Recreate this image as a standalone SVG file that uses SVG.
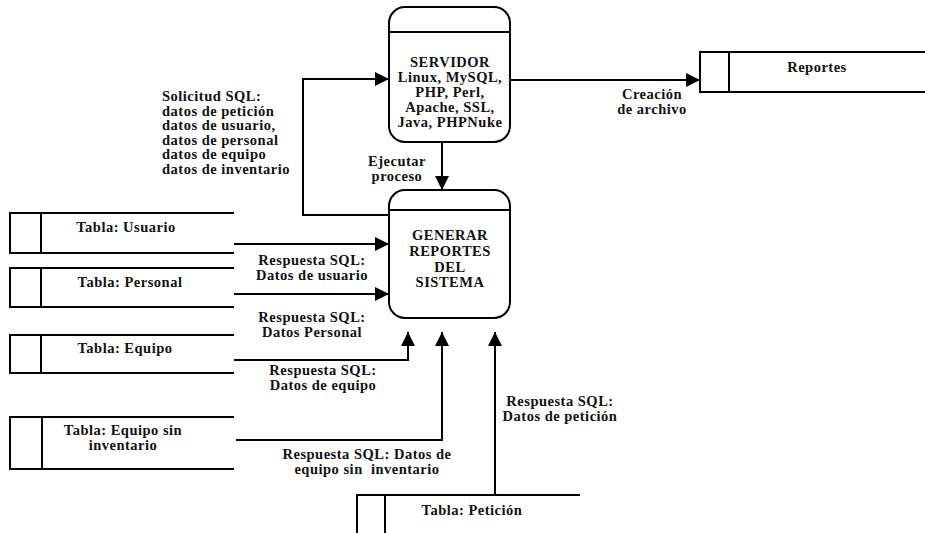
<svg xmlns="http://www.w3.org/2000/svg" width="925" height="533" viewBox="0 0 925 533">
  <style>
    .ln { fill: none; stroke: #000; stroke-width: 2; }
    .box { fill: none; stroke: #000; stroke-width: 2; }
    text { font-family: "Liberation Serif", "Times New Roman", serif; font-weight: bold; font-size: 14.5px; letter-spacing: 0.5px; fill: #111; }
    .c { text-anchor: middle; }
  </style>
  <defs>
    <marker id="arrow" viewBox="0 0 14 14" markerWidth="14" markerHeight="14" refX="14" refY="7" orient="auto" markerUnits="userSpaceOnUse">
      <path d="M0,0 L14,7 L0,14 z" fill="#000"/>
    </marker>
  </defs>
  <rect width="925" height="533" fill="#fff"/>

  <!-- processes -->
  <g id="servidor">
    <rect class="box" x="389" y="7" width="121" height="135" rx="16" ry="16"/>
    <line class="box" x1="389" y1="32" x2="510" y2="32"/>
    <text class="c" x="450" y="67">SERVIDOR</text>
    <text class="c" x="450" y="82">Linux, MySQL,</text>
    <text class="c" x="450" y="97">PHP, Perl,</text>
    <text class="c" x="450" y="112">Apache, SSL,</text>
    <text class="c" x="450" y="127">Java, PHPNuke</text>
  </g>

  <g id="generar">
    <rect class="box" x="389" y="190" width="121" height="128" rx="16" ry="16"/>
    <line class="box" x1="389" y1="210" x2="510" y2="210"/>
    <text class="c" x="450" y="240">GENERAR</text>
    <text class="c" x="450" y="256">REPORTES</text>
    <text class="c" x="450" y="272">DEL</text>
    <text class="c" x="450" y="287">SISTEMA</text>
  </g>

  <!-- data stores -->
  <g id="reportes">
    <path class="box" d="M925,52 H700 V92 H925"/>
    <line class="box" x1="729" y1="52" x2="729" y2="92"/>
    <text class="c" x="817" y="72">Reportes</text>
  </g>

  <g id="tabla-usuario">
    <path class="box" d="M234,213 H10 V253 H234"/>
    <line class="box" x1="41" y1="213" x2="41" y2="253"/>
    <text class="c" x="126" y="232">Tabla: Usuario</text>
  </g>

  <g id="tabla-personal">
    <path class="box" d="M234,268 H10 V307 H234"/>
    <line class="box" x1="41" y1="268" x2="41" y2="307"/>
    <text class="c" x="130" y="287">Tabla: Personal</text>
  </g>

  <g id="tabla-equipo">
    <path class="box" d="M234,335 H10 V373 H234"/>
    <line class="box" x1="41" y1="335" x2="41" y2="373"/>
    <text class="c" x="125" y="353">Tabla: Equipo</text>
  </g>

  <g id="tabla-equipo-sin-inventario">
    <path class="box" d="M234,417 H10 V469 H234"/>
    <line class="box" x1="42" y1="417" x2="42" y2="469"/>
    <text class="c" x="123" y="435">Tabla: Equipo sin</text>
    <text class="c" x="123" y="449.5">inventario</text>
  </g>

  <g id="tabla-peticion">
    <path class="box" d="M580,495 H357 V540"/>
    <line class="box" x1="385" y1="495" x2="385" y2="540"/>
    <text class="c" x="472" y="515">Tabla: Petición</text>
  </g>

  <!-- data flows -->
  <g id="connectors">
    <path class="ln" d="M389,215 H303 V79 H389" marker-end="url(#arrow)"/>
    <path class="ln" d="M510,80 H700" marker-end="url(#arrow)"/>
    <path class="ln" d="M442,142 V190" marker-end="url(#arrow)"/>
    <path class="ln" d="M234,244 H389" marker-end="url(#arrow)"/>
    <path class="ln" d="M234,294 H389" marker-end="url(#arrow)"/>
    <path class="ln" d="M234,360 H408 V332" marker-end="url(#arrow)"/>
    <path class="ln" d="M236,440 H442 V332" marker-end="url(#arrow)"/>
    <path class="ln" d="M495,495 V332" marker-end="url(#arrow)"/>
  </g>

  <!-- flow labels -->
  <g id="labels">
    <text x="162" y="101">Solicitud SQL:</text>
    <text x="162" y="115.5">datos de petición</text>
    <text x="162" y="130">datos de usuario,</text>
    <text x="162" y="144.5">datos de personal</text>
    <text x="162" y="159">datos de equipo</text>
    <text x="162" y="173.5">datos de inventario</text>

    <text class="c" x="397" y="166">Ejecutar</text>
    <text class="c" x="397" y="180.5">proceso</text>

    <text class="c" x="652" y="99">Creación</text>
    <text class="c" x="652" y="114">de archivo</text>

    <text class="c" x="312" y="265">Respuesta SQL:</text>
    <text class="c" x="312" y="279.5">Datos de usuario</text>

    <text class="c" x="312" y="322">Respuesta SQL:</text>
    <text class="c" x="312" y="336.5">Datos Personal</text>

    <text class="c" x="323" y="375">Respuesta SQL:</text>
    <text class="c" x="323" y="389.5">Datos de equipo</text>

    <text class="c" x="367" y="459">Respuesta SQL: Datos de</text>
    <text class="c" x="367" y="473.5" xml:space="preserve">equipo sin  inventario</text>

    <text class="c" x="560" y="406">Respuesta SQL:</text>
    <text class="c" x="560" y="421">Datos de petición</text>
  </g>
</svg>
